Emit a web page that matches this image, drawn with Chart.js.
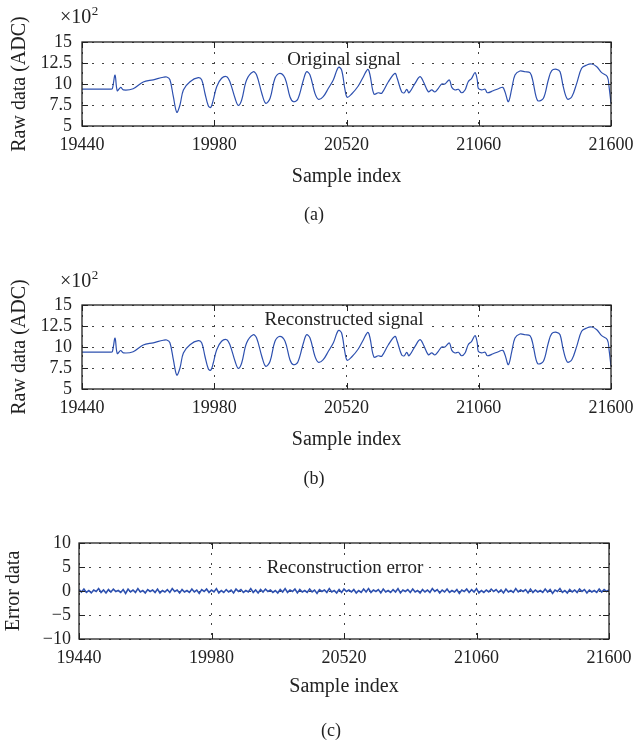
<!DOCTYPE html>
<html><head><meta charset="utf-8">
<script src="https://cdn.jsdelivr.net/npm/chart.js@4.4.1/dist/chart.umd.min.js"></script>
<style>
html,body{margin:0;padding:0;background:#fff;}
#wrap{position:relative;width:633px;height:744px;overflow:hidden;background:#fff;}
canvas{position:absolute;left:0;}
</style></head><body>
<div id="wrap">
<canvas id="cA" width="633" height="230" style="top:0px"></canvas>
<canvas id="cB" width="633" height="270" style="top:230px"></canvas>
<canvas id="cC" width="633" height="244" style="top:500px"></canvas>
</div>
<script>
// ---- data ----
const sampleTicks = [19440, 19980, 20520, 21060, 21600];
const rawTicks = [500, 750, 1000, 1250, 1500];
const errorTicks = [-10, -5, 0, 5, 10];

const originalIndex = [19440,19558,19564,19575,19584,19598,19609,19649,19690,19731,19772,19786,19799,19813,19827,19840,19854,19881,19915,19929,19942,19956,19966,19976,19990,20010,20031,20044,20065,20078,20092,20112,20139,20153,20174,20190,20208,20228,20248,20269,20289,20303,20321,20344,20357,20371,20391,20405,20425,20446,20466,20487,20500,20514,20523,20541,20568,20589,20607,20616,20632,20650,20664,20691,20718,20727,20745,20756,20766,20775,20800,20820,20834,20854,20868,20881,20895,20909,20922,20940,20950,20963,20977,20990,21004,21017,21031,21045,21054,21058,21072,21086,21095,21119,21140,21158,21167,21181,21195,21208,21228,21249,21269,21280,21294,21303,21324,21344,21358,21378,21392,21405,21422,21440,21460,21480,21501,21521,21542,21562,21585,21592,21600];
const originalValues = [940,940,945,1107,920,960,929,944,1024,1050,1080,1083,1050,849,663,750,929,1027,1075,1048,890,738,722,810,968,1068,1087,1027,830,746,810,1048,1146,1107,890,770,830,1068,1127,1068,849,790,818,1048,1146,1107,890,818,849,949,1048,1199,1167,929,842,881,976,1087,1175,1107,881,896,890,1027,1127,1068,908,896,937,896,1008,1087,1027,908,929,905,949,1000,1000,1048,960,929,937,896,929,1027,1068,1135,1048,949,929,937,896,920,944,960,908,790,949,1107,1155,1146,1135,1048,849,798,830,1048,1159,1175,1146,968,821,849,1008,1187,1226,1238,1206,1135,1087,968,770];

const reconstructedIndex = [19440,19558,19564,19575,19584,19598,19609,19649,19690,19731,19772,19786,19799,19813,19827,19840,19854,19881,19915,19929,19942,19956,19966,19976,19990,20010,20031,20044,20065,20078,20092,20112,20139,20153,20174,20190,20208,20228,20248,20269,20289,20303,20321,20344,20357,20371,20391,20405,20425,20446,20466,20487,20500,20514,20523,20541,20568,20589,20607,20616,20632,20650,20664,20691,20718,20727,20745,20756,20766,20775,20800,20820,20834,20854,20868,20881,20895,20909,20922,20940,20950,20963,20977,20990,21004,21017,21031,21045,21054,21058,21072,21086,21095,21119,21140,21158,21167,21181,21195,21208,21228,21249,21269,21280,21294,21303,21324,21344,21358,21378,21392,21405,21422,21440,21460,21480,21501,21521,21542,21562,21585,21592,21600];
const reconstructedValues = [940,940,945,1105,922,958,930,944,1024,1050,1080,1083,1050,849,665,750,929,1027,1075,1048,890,738,724,810,968,1068,1087,1027,830,746,810,1048,1146,1107,890,770,830,1068,1127,1068,849,790,818,1048,1146,1107,890,818,849,949,1048,1197,1167,929,842,881,976,1087,1175,1107,881,896,890,1027,1127,1068,908,896,937,896,1008,1087,1027,908,929,905,949,1000,1000,1048,960,929,937,896,929,1027,1068,1135,1048,949,929,937,896,920,944,960,908,790,949,1107,1155,1146,1135,1048,849,798,830,1048,1159,1175,1146,968,821,849,1008,1187,1226,1238,1206,1135,1087,968,770];

const errorStart = 19440;
const errorStep = 10;
const errorValues = [
0.3,-0.2,0.4,-0.3,0.1,-0.4,0.2,-0.1,0.5,-0.3,
0.2,-0.4,0.3,-0.2,0.4,-0.1,0.1,-0.3,0.3,-0.5,
0.4,-0.2,0.2,-0.3,0.5,-0.2,0.1,-0.4,0.3,-0.1,
0.2,-0.3,0.4,-0.4,0.1,-0.2,0.3,-0.3,0.5,-0.1,
0.2,-0.4,0.3,-0.2,0.1,-0.3,0.4,-0.2,0.2,-0.5,
0.3,-0.1,0.4,-0.3,0.2,-0.2,0.5,-0.4,0.1,-0.3,
0.3,-0.2,0.2,-0.4,0.4,-0.1,0.3,-0.3,0.1,-0.2,
0.5,-0.3,0.2,-0.4,0.3,-0.2,0.4,-0.1,0.2,-0.3,
0.1,-0.4,0.3,-0.2,0.5,-0.3,0.2,-0.1,0.4,-0.4,
0.3,-0.2,0.1,-0.3,0.4,-0.2,0.2,-0.5,0.3,-0.1,
0.2,-0.3,0.5,-0.2,0.1,-0.4,0.3,-0.3,0.4,-0.1,
0.2,-0.2,0.3,-0.4,0.1,-0.3,0.4,-0.2,0.5,-0.3,
0.2,-0.1,0.3,-0.4,0.4,-0.2,0.1,-0.3,0.3,-0.2,
0.5,-0.4,0.2,-0.1,0.3,-0.3,0.4,-0.2,0.1,-0.4,
0.3,-0.2,0.2,-0.3,0.5,-0.1,0.3,-0.4,0.2,-0.2,
0.4,-0.3,0.1,-0.2,0.3,-0.5,0.2,-0.1,0.4,-0.3,
0.3,-0.2,0.5,-0.4,0.1,-0.3,0.2,-0.2,0.4,-0.1,
0.3,-0.3,0.2,-0.4,0.4,-0.2,0.1,-0.3,0.5,-0.2,
0.2,-0.1,0.3,-0.4,0.4,-0.3,0.2,-0.2,0.1,-0.3,
0.4,-0.2,0.3,-0.5,0.2,-0.1,0.5,-0.3,0.1,-0.4,
0.3,-0.2,0.2,-0.3,0.4,-0.1,0.3,-0.4,0.2,-0.2,
0.1,-0.3,0.4,-0.2,0.3,-0.1,0.2];

// ---- style ----
const FONT = "'Liberation Serif','Times New Roman',serif";
const INK = '#222222';
const LINE = 'rgb(45,80,175)';
const GRID = '#444444';

const frame = {
  id: 'frame',
  beforeDatasetsDraw(chart, _a, o) {
    if (!o.label) return;
    const ctx = chart.ctx;
    ctx.save();
    ctx.font = `19px ${FONT}`;
    const w = ctx.measureText(o.label).width;
    ctx.fillStyle = '#fff';
    ctx.fillRect(o.labelX - w / 2 - 5, o.labelY - 15, w + 10, 20);
    ctx.fillStyle = INK;
    ctx.textAlign = 'center';
    ctx.textBaseline = 'alphabetic';
    ctx.fillText(o.label, o.labelX, o.labelY);
    ctx.restore();
  },
  afterDraw(chart, _a, o) {
    const {ctx, chartArea: a, scales: {x, y}} = chart;
    ctx.save();
    ctx.strokeStyle = INK;
    ctx.lineWidth = 1;
    const L = 6;
    ctx.beginPath();
    x.ticks.forEach(t => {
      const p = Math.round(x.getPixelForValue(t.value)) + 0.5;
      ctx.moveTo(p, a.bottom); ctx.lineTo(p, a.bottom - L);
      ctx.moveTo(p, a.top); ctx.lineTo(p, a.top + L);
    });
    y.ticks.forEach(t => {
      const p = Math.round(y.getPixelForValue(t.value)) + 0.5;
      ctx.moveTo(a.left, p); ctx.lineTo(a.left + L, p);
      ctx.moveTo(a.right, p); ctx.lineTo(a.right - L, p);
    });
    ctx.stroke();
    ctx.lineWidth = 1.3;
    ctx.strokeRect(a.left, a.top, a.right - a.left, a.bottom - a.top);
    ctx.fillStyle = INK;
    ctx.textBaseline = 'alphabetic';
    if (o.exponent) {
      ctx.textAlign = 'left';
      ctx.font = `20px ${FONT}`;
      ctx.fillText('\u00D710', o.expX, o.expY);
      const w = ctx.measureText('\u00D710').width;
      ctx.font = `13px ${FONT}`;
      ctx.fillText('2', o.expX + w + 0.5, o.expY - 8);
    }
    if (o.caption) {
      ctx.textAlign = 'center';
      ctx.font = `18px ${FONT}`;
      ctx.fillText(o.caption, o.capX, o.capY);
    }
    ctx.restore();
  }
};

function makeChart(id, cfg) {
  const font = {family: FONT, size: 18};
  return new Chart(document.getElementById(id), {
    type: 'line',
    data: {datasets: [{
      data: cfg.points,
      borderColor: LINE,
      borderWidth: cfg.lw,
      pointRadius: 0,
      fill: false,
      tension: cfg.tension
    }]},
    options: {
      responsive: false,
      animation: false,
      devicePixelRatio: 1,
      layout: {padding: cfg.pad},
      plugins: {legend: {display: false}, tooltip: {enabled: false}, frame: cfg.frame},
      scales: {
        x: {
          type: 'linear', min: 19440, max: 21600,
          afterBuildTicks: s => { s.ticks = sampleTicks.map(v => ({value: v})); },
          afterFit: s => { s.height = cfg.xh; s.paddingLeft = 0; s.paddingRight = 0; },
          grid: {color: GRID, lineWidth: 1, drawTicks: false},
          border: {display: false, dash: [2, 8]},
          ticks: {padding: 8, font, color: INK, maxRotation: 0, autoSkip: false, callback: v => String(v)},
          title: {display: true, text: 'Sample index', font: {family: FONT, size: 20}, color: INK, padding: 0}
        },
        y: {
          type: 'linear', min: cfg.ymin, max: cfg.ymax,
          afterBuildTicks: s => { s.ticks = cfg.yticks.map(v => ({value: v})); },
          afterFit: s => { s.width = cfg.yw; s.paddingTop = 0; s.paddingBottom = 0; },
          grid: {color: GRID, lineWidth: 1, drawTicks: false},
          border: {display: false, dash: [2, 8]},
          ticks: {padding: cfg.ypad, font, color: INK, autoSkip: false, callback: cfg.yfmt},
          title: {display: true, text: cfg.ytitle, font: {family: FONT, size: 20}, color: INK, padding: 0}
        }
      }
    },
    plugins: [frame]
  });
}

const rawFmt = v => String(v / 100);
const errFmt = v => (v < 0 ? '\u2212' + (-v) : String(v));

makeChart('cA', {
  points: originalIndex.map((s, i) => ({x: s, y: originalValues[i]})),
  lw: 1.2, tension: 0.35,
  pad: {left: 8, right: 22, top: 42, bottom: 41},
  xh: 63, yw: 74, ypad: 10,
  ymin: 500, ymax: 1500, yticks: rawTicks, yfmt: rawFmt, ytitle: 'Raw data (ADC)',
  frame: {label: 'Original signal', labelX: 344, labelY: 65, exponent: true, expX: 60, expY: 23, caption: '(a)', capX: 314, capY: 220}
});

makeChart('cB', {
  points: reconstructedIndex.map((s, i) => ({x: s, y: reconstructedValues[i]})),
  lw: 1.2, tension: 0.35,
  pad: {left: 8, right: 22, top: 75, bottom: 48},
  xh: 63, yw: 74, ypad: 10,
  ymin: 500, ymax: 1500, yticks: rawTicks, yfmt: rawFmt, ytitle: 'Raw data (ADC)',
  frame: {label: 'Reconstructed signal', labelX: 344, labelY: 95, exponent: true, expX: 60, expY: 56.5, caption: '(b)', capX: 314, capY: 254}
});

makeChart('cC', {
  points: errorValues.map((v, i) => ({x: errorStart + i * errorStep, y: v})),
  lw: 1.6, tension: 0,
  pad: {left: 2, right: 24, top: 43, bottom: 45},
  xh: 60, yw: 77, ypad: 8,
  ymin: -10, ymax: 10, yticks: errorTicks, yfmt: errFmt, ytitle: 'Error data',
  frame: {label: 'Reconstruction error', labelX: 345, labelY: 72.5, exponent: false, caption: '(c)', capX: 331, capY: 236}
});
</script>
</body></html>
